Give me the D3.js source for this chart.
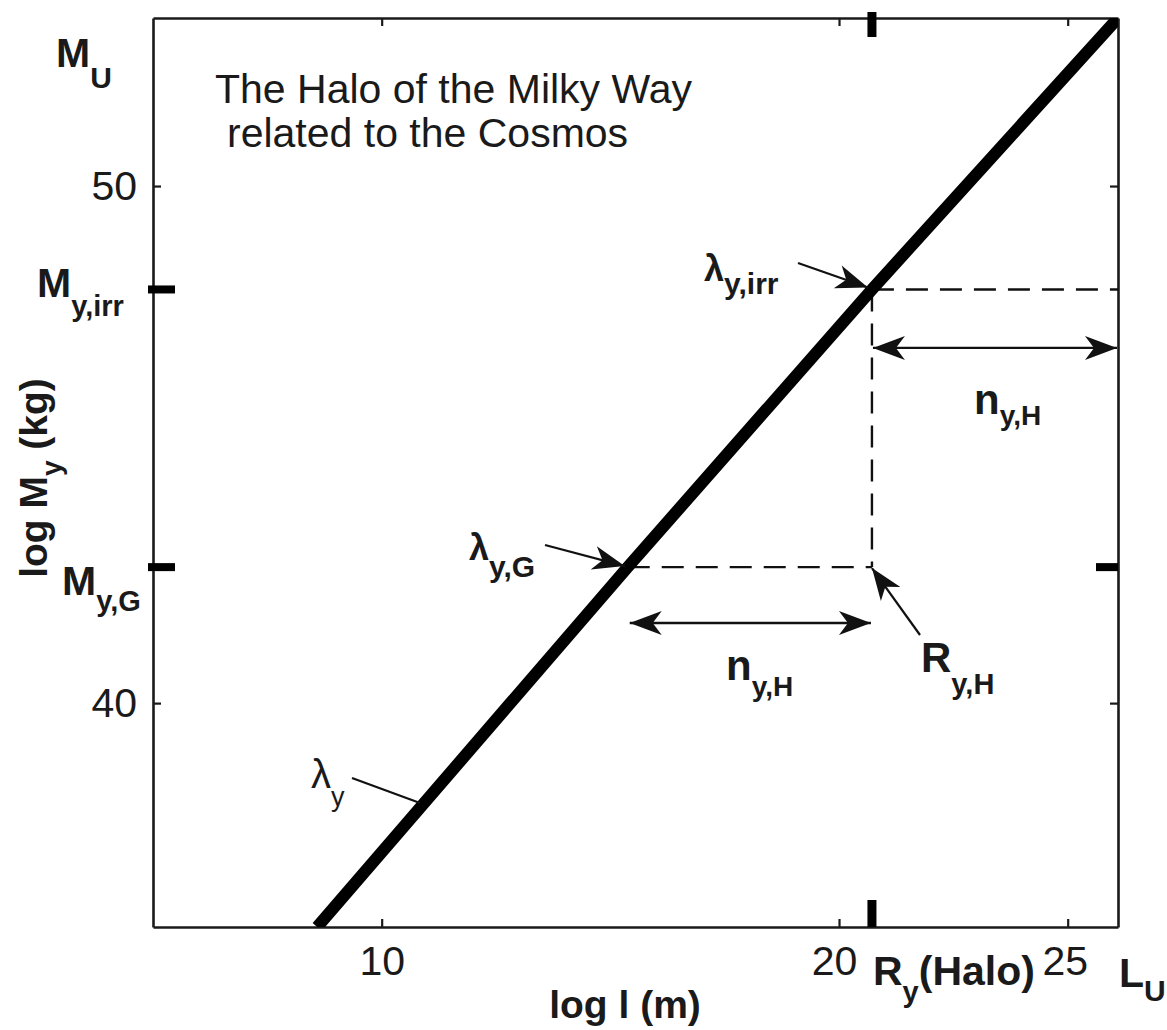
<!DOCTYPE html>
<html>
<head>
<meta charset="utf-8">
<script src="https://cdn.jsdelivr.net/npm/d3@7"></script>
<style>
  body { margin: 0; background: #fff; }
  svg { display: block; }
  text { font-family: "Liberation Sans", Arial, Helvetica, sans-serif; fill: #1a1a1a; }
</style>
</head>
<body>
<svg id="chart" width="1167" height="1030"></svg>
<script>
// Axes in log10 units: length l in metres, mass M_y in kilograms
const xDomain = [5, 26.1];        // right edge = L_U
const yDomain = [35.67, 53.25];   // top edge = M_U
const xTicks = [10, 20, 25];
const yTicks = [40, 50];

// The λ_y relation (log M_y against log l)
const lambdaLogL = [8.59, 15.38, 20.72, 26.1];
const lambdaLogM = [35.67, 42.63, 48.0, 53.25];

// Characteristic values
const logL_G = 15.38;      // λ_y,G
const logR_halo = 20.72;   // R_y(Halo), λ_y,irr
const logL_U = 26.1;
const logM_G = 42.63;      // M_y,G
const logM_irr = 48.0;     // M_y,irr

// Heights of the two n_y,H span arrows
const nSpanLowM = 41.55;
const nSpanHighM = 46.87;

const svg = d3.select("#chart");
const W = 1167, H = 1030;
const m = { left: 153, top: 18, right: 1167 - 1118, bottom: 1030 - 927 };
const iw = W - m.left - m.right, ih = H - m.top - m.bottom;

const x = d3.scaleLinear().domain(xDomain).range([0, iw]);
const y = d3.scaleLinear().domain(yDomain).range([ih, 0]);

const defs = svg.append("defs");
defs.append("clipPath").attr("id", "plotClip")
  .append("rect").attr("width", iw).attr("height", ih);
defs.append("marker")
  .attr("id", "head")
  .attr("markerUnits", "userSpaceOnUse")
  .attr("viewBox", "-34 -14 36 28")
  .attr("refX", 0).attr("refY", 0)
  .attr("markerWidth", 36).attr("markerHeight", 28)
  .attr("orient", "auto-start-reverse")
  .append("path")
  .attr("d", "M0,0 L-32,-12 L-23,0 L-32,12 Z")
  .attr("fill", "#111");

const g = svg.append("g").attr("transform", `translate(${m.left},${m.top})`);
const ink = "#1a1a1a";

// Frame with inward ticks on all four sides
const axB = g.append("g").attr("transform", `translate(0,${ih})`)
  .call(d3.axisBottom(x).tickValues(xTicks).tickSizeInner(-8).tickSizeOuter(0).tickPadding(19));
const axT = g.append("g")
  .call(d3.axisTop(x).tickValues(xTicks).tickSizeInner(-8).tickSizeOuter(0).tickFormat(""));
const axL = g.append("g")
  .call(d3.axisLeft(y).tickValues(yTicks).tickSizeInner(-8).tickSizeOuter(0).tickPadding(16));
const axR = g.append("g").attr("transform", `translate(${iw},0)`)
  .call(d3.axisRight(y).tickValues(yTicks).tickSizeInner(-8).tickSizeOuter(0).tickFormat(""));

[axB, axT, axL, axR].forEach(a => {
  a.select(".domain").attr("stroke", ink).attr("stroke-width", 2.6);
  a.selectAll(".tick line").attr("stroke", ink).attr("stroke-width", 2.2);
  a.selectAll(".tick text").style("font-size", "41px").attr("fill", "#333");
});
axB.selectAll(".tick text").filter(d => d === 20).attr("dx", -5);
axB.selectAll(".tick text").filter(d => d === 25).attr("dx", -3);

// Dashed construction lines
const dash = g.append("g").attr("fill", "none").attr("stroke", "#111")
  .attr("stroke-width", 2.4).attr("stroke-dasharray", "22,12");
dash.append("line")
  .attr("x1", x(logL_G)).attr("y1", y(logM_G))
  .attr("x2", x(logR_halo)).attr("y2", y(logM_G));
dash.append("line")
  .attr("x1", x(logR_halo)).attr("y1", y(logM_irr))
  .attr("x2", x(logR_halo)).attr("y2", y(logM_G));
dash.append("line")
  .attr("x1", x(logR_halo)).attr("y1", y(logM_irr))
  .attr("x2", x(logL_U)).attr("y2", y(logM_irr));

// λ_y line
const line = d3.line().x((d, i) => x(lambdaLogL[i])).y(d => y(d));
g.append("path")
  .datum(lambdaLogM)
  .attr("clip-path", "url(#plotClip)")
  .attr("d", line)
  .attr("fill", "none")
  .attr("stroke", "#000")
  .attr("stroke-width", 12);

// Heavy markers for R_y(Halo), M_y,irr and M_y,G
const mark = g.append("g").attr("fill", "#000");
mark.append("rect").attr("x", x(logR_halo) - 4.5).attr("y", -6).attr("width", 9).attr("height", 25);
mark.append("rect").attr("x", x(logR_halo) - 4.5).attr("y", ih - 27).attr("width", 9).attr("height", 27);
mark.append("rect").attr("x", -5).attr("y", y(logM_irr) - 4).attr("width", 27).attr("height", 8);
mark.append("rect").attr("x", -5).attr("y", y(logM_G) - 4).attr("width", 27).attr("height", 8);
mark.append("rect").attr("x", iw - 22).attr("y", y(logM_G) - 4).attr("width", 22).attr("height", 8);

// n_y,H span arrows
const arrows = g.append("g").attr("stroke", "#111").attr("stroke-width", 2.4).attr("fill", "none");
arrows.append("line")
  .attr("x1", x(logL_G) + 2).attr("y1", y(nSpanLowM))
  .attr("x2", x(logR_halo) - 1).attr("y2", y(nSpanLowM))
  .attr("marker-start", "url(#head)").attr("marker-end", "url(#head)");
arrows.append("line")
  .attr("x1", x(logR_halo) + 1).attr("y1", y(nSpanHighM))
  .attr("x2", x(logL_U) - 1).attr("y2", y(nSpanHighM))
  .attr("marker-start", "url(#head)").attr("marker-end", "url(#head)");

// Pointer arrows to λ_y,G, λ_y,irr and R_y,H
const toX = v => x(v) + m.left, toY = v => y(v) + m.top;
const pointers = svg.append("g").attr("stroke", "#111").attr("stroke-width", 2.2).attr("fill", "none");
pointers.append("line")
  .attr("x1", 545).attr("y1", 545).attr("x2", toX(logL_G) - 3).attr("y2", toY(logM_G) - 1)
  .attr("marker-end", "url(#head)");
pointers.append("line")
  .attr("x1", 798).attr("y1", 263).attr("x2", toX(logR_halo) - 4).attr("y2", toY(logM_irr) - 2)
  .attr("marker-end", "url(#head)");
pointers.append("line")
  .attr("x1", 920).attr("y1", 635).attr("x2", toX(logR_halo)).attr("y2", toY(logM_G) + 1)
  .attr("marker-end", "url(#head)");
// plain leader line for λ_y
pointers.append("line")
  .attr("x1", 352).attr("y1", 778).attr("x2", 420).attr("y2", 803);

// Text helpers: main symbol followed by a lowered subscript
function symbol(xp, yp, main, sub, size, subSize, weight, drop) {
  const t = svg.append("text").attr("x", xp).attr("y", yp)
    .style("font-size", size + "px").style("font-weight", weight);
  t.append("tspan").text(main);
  t.append("tspan").attr("dy", drop).style("font-size", subSize + "px").text(sub);
  return t;
}

symbol(56, 67, "M", "U", 41, 30, "bold", 21);
symbol(37, 297, "M", "y,irr", 41, 29, "bold", 19);
symbol(62, 595, "M", "y,G", 41, 29, "bold", 16);

symbol(469, 560, "λ", "y,G", 36, 30, "bold", 17);
symbol(704, 281, "λ", "y,irr", 36, 30, "bold", 13);
symbol(311, 788, "λ", "y", 40, 27, "normal", 18);

symbol(974, 414, "n", "y,H", 42, 28, "bold", 11);
symbol(726, 680, "n", "y,H", 42, 28, "bold", 16);
symbol(921, 672, "R", "y,H", 42, 29, "bold", 22);

// Bottom-edge annotations
const rh = symbol(873, 985, "R", "y", 41, 29, "bold", 17);
rh.append("tspan").attr("dy", -17).style("font-size", "41px").text("(Halo)");
symbol(1119, 987, "L", "U", 41, 30, "bold", 14);

// Title inside the plot
const title = svg.append("text").style("font-size", "41px");
title.append("tspan").attr("x", 215).attr("y", 103).text("The Halo of the Milky Way");
title.append("tspan").attr("x", 227).attr("y", 147).text("related to the Cosmos");

// Axis titles
svg.append("text")
  .attr("x", 625).attr("y", 1018)
  .attr("text-anchor", "middle")
  .style("font-size", "39px").style("font-weight", "bold")
  .text("log l (m)");

const yt = svg.append("text")
  .attr("transform", "translate(47,478) rotate(-90)")
  .attr("text-anchor", "middle")
  .style("font-size", "39px").style("font-weight", "bold");
yt.append("tspan").text("log M");
yt.append("tspan").attr("dy", 14).style("font-size", "28px").text("y");
yt.append("tspan").attr("dy", -14).text(" (kg)");
</script>
</body>
</html>
